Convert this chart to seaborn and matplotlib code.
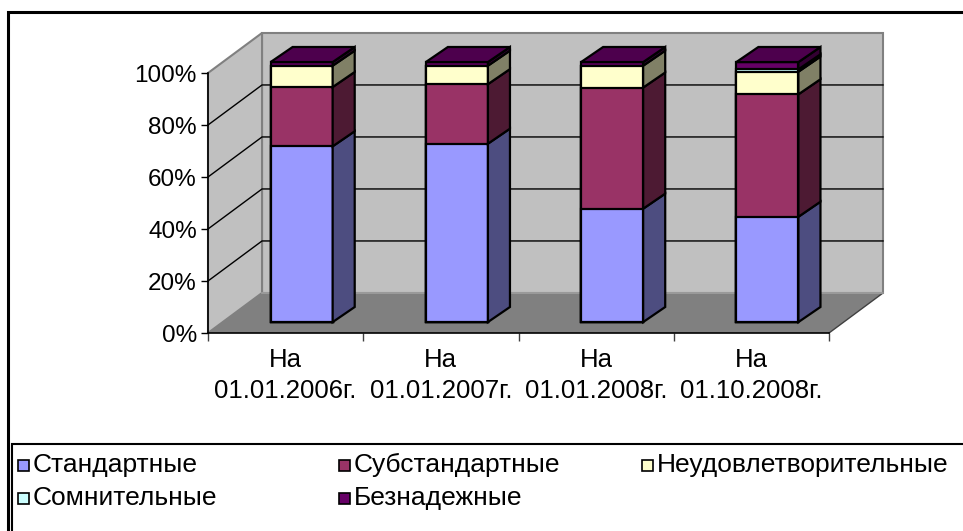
import numpy as np
import pandas as pd
import seaborn as sns
import matplotlib.pyplot as plt
from matplotlib.patches import Polygon, Rectangle

categories = ["На\n01.01.2006г.", "На\n01.01.2007г.", "На\n01.01.2008г.", "На\n01.10.2008г."]
series_names = ["Стандартные", "Субстандартные", "Неудовлетворительные", "Сомнительные", "Безнадежные"]
standard = [67.6, 68.6, 43.6, 40.5]
substandard = [22.8, 22.9, 46.6, 47.1]
unsatisfactory = [8.2, 7.1, 8.4, 8.7]
doubtful = [0.0, 0.0, 0.0, 0.9]
hopeless = [1.4, 1.4, 1.4, 2.8]
y_ticks = [0, 20, 40, 60, 80, 100]
y_tick_labels = ["0%", "20%", "40%", "60%", "80%", "100%"]

front_colors = ["#9999ff", "#993366", "#ffffcc", "#ccffff", "#660066"]
side_colors = ["#4d4d80", "#4d1a33", "#808066", "#668080", "#330033"]
top_colors = ["#7a7acc", "#7a2952", "#ccccaa", "#a3cccc", "#4d004d"]

# pseudo 3d geometry (in data units)
wall_dx, wall_dy = 0.348, 15.4   # depth of floor / side wall
bar_fx, bar_fy = 0.103, 4.2      # front face of bars sits a bit behind the axis
bar_dx, bar_dy = 0.142, 5.8      # depth of a bar
bar_w = 0.4

plt.rcParams["font.family"] = ["Liberation Sans", "DejaVu Sans"]

values = np.array([standard, substandard, unsatisfactory, doubtful, hopeless])
cum = np.cumsum(values, axis=0)
df = pd.DataFrame({"cat": categories})
for k, name in enumerate(series_names):
    df[name] = cum[k]

fig = plt.figure(figsize=(9.63, 5.31), dpi=100)
ax = fig.add_axes([208 / 963, 1 - 333 / 531, 621 / 963, 260 / 531])
ax.set_facecolor("none")

# walls and floor
x0, x1 = -0.5, 3.5
back = Rectangle((x0 + wall_dx, wall_dy), x1 - x0, 100, facecolor="#c0c0c0",
                 edgecolor="#808080", lw=1.5, zorder=0.5, clip_on=False)
ax.add_patch(back)
left = Polygon([(x0, 0), (x0, 100), (x0 + wall_dx, 100 + wall_dy), (x0 + wall_dx, wall_dy)],
               closed=True, facecolor="#c0c0c0", edgecolor="#808080", lw=1.5,
               zorder=0.5, clip_on=False)
ax.add_patch(left)
floor = Polygon([(x0, 0), (x1, 0), (x1 + wall_dx, wall_dy), (x0 + wall_dx, wall_dy)],
                closed=True, facecolor="#808080", edgecolor="none", zorder=0.55, clip_on=False)
ax.add_patch(floor)
ax.plot([x1, x1 + wall_dx], [0, wall_dy], color="#404040", lw=1, zorder=0.6, clip_on=False)
ax.plot([x0 + wall_dx, x1 + wall_dx], [wall_dy, wall_dy], color="#a0a0a0", lw=1.2,
        zorder=0.6, clip_on=False)
for v in y_ticks[1:-1]:
    ax.plot([x0, x0 + wall_dx, x1 + wall_dx], [v, v + wall_dy, v + wall_dy],
            color="black", lw=1, zorder=0.6, clip_on=False)

# front faces: cumulative bars drawn from the tallest down
for k in range(len(series_names) - 1, -1, -1):
    sns.barplot(data=df, x="cat", y=series_names[k], color=front_colors[k], saturation=1,
                width=bar_w, edgecolor="black", linewidth=1.6, errorbar=None,
                zorder=3, ax=ax)
for p in ax.patches:
    if isinstance(p, Rectangle) and p.get_zorder() == 3:
        p.set_x(p.get_x() + bar_fx)
        p.set_y(p.get_y() + bar_fy)
        p.set_clip_on(False)

# side and top faces
for i in range(len(categories)):
    xr = i + bar_w / 2 + bar_fx
    xl = i - bar_w / 2 + bar_fx
    bottom = 0
    top_k = 0
    for k in range(len(series_names)):
        h = values[k, i]
        if h <= 0:
            continue
        b, t = bottom + bar_fy, bottom + h + bar_fy
        ax.add_patch(Polygon([(xr, b), (xr, t), (xr + bar_dx, t + bar_dy), (xr + bar_dx, b + bar_dy)],
                             closed=True, facecolor=side_colors[k], edgecolor="black",
                             lw=1.6, zorder=3, clip_on=False))
        bottom += h
        top_k = k
    t = bottom + bar_fy
    ax.add_patch(Polygon([(xl, t), (xr, t), (xr + bar_dx, t + bar_dy), (xl + bar_dx, t + bar_dy)],
                         closed=True, facecolor=top_colors[top_k], edgecolor="black",
                         lw=1.6, zorder=3, clip_on=False))

ax.set_xlim(x0, x1)
ax.set_ylim(0, 100)
ax.set_xlabel("")
ax.set_ylabel("")
for s in ["top", "right"]:
    ax.spines[s].set_visible(False)
ax.spines["left"].set_color("black")
ax.spines["bottom"].set_color("black")
ax.spines["left"].set_linewidth(1.2)
ax.spines["bottom"].set_linewidth(1.2)
ax.set_yticks(y_ticks)
ax.set_yticklabels(y_tick_labels)
ax.set_xticks(range(len(categories)))
ax.set_xticklabels(categories, linespacing=1.35)
ax.set_xticks(np.arange(-0.5, 4, 1), minor=True)
ax.tick_params(axis="x", which="major", length=0, pad=11, labelsize=18.5)
ax.tick_params(axis="x", which="minor", length=6, width=1, color="#404040")
ax.tick_params(axis="y", length=5, width=1, pad=3, labelsize=17.5)

# chart border and legend
fig.add_artist(Rectangle((8 / 963, -0.1), 1.2, 1 - 12 / 531 + 0.1, fill=False,
                         edgecolor="black", lw=2.2, transform=fig.transFigure))
fig.add_artist(Rectangle((12 / 963, -0.1), 1.2, 1 - 444 / 531 + 0.1, fill=False,
                         edgecolor="black", lw=1.5, transform=fig.transFigure))
legend_cols = [18, 339, 642]
legend_rows = [465, 498]
for k, name in enumerate(series_names):
    mx = legend_cols[k % 3]
    my = legend_rows[k // 3]
    fig.add_artist(Rectangle((mx / 963, 1 - (my + 6) / 531), 11 / 963, 11 / 531,
                             facecolor=front_colors[k], edgecolor="black", lw=1.2,
                             transform=fig.transFigure))
    fig.text((mx + 15) / 963, 1 - my / 531, name, fontsize=19, va="center", ha="left")

fig.savefig("out.png", dpi=100)
